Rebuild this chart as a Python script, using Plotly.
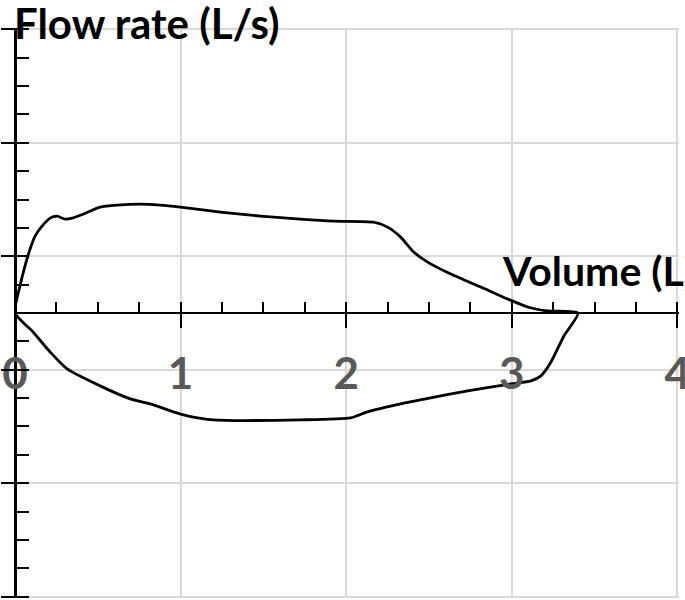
import plotly.graph_objects as go

# Expiratory limb (upper), volume L and flow L/s
exp_volume = [0, 0.030, 0.060, 0.091, 0.121, 0.163, 0.212, 0.254, 0.302, 0.345, 0.411, 0.514,
              0.617, 0.756, 0.877, 0.998, 1.240, 1.482, 1.724, 1.924, 2.166, 2.250, 2.329,
              2.408, 2.492, 2.632, 2.813, 2.976, 3.097, 3.218, 3.400]
exp_flow = [0, 0.475, 0.827, 1.127, 1.356, 1.532, 1.673, 1.708, 1.655, 1.673, 1.743, 1.866,
            1.901, 1.919, 1.901, 1.866, 1.778, 1.708, 1.655, 1.620, 1.602, 1.514, 1.338,
            1.074, 0.898, 0.687, 0.458, 0.246, 0.106, 0.035, 0.0]
# Inspiratory limb (lower), from end volume back to zero
insp_volume = [3.315, 3.237, 3.176, 3.116, 2.995, 2.734, 2.480, 2.329, 2.129, 2.027, 1.724,
               1.198, 1.041, 0.956, 0.817, 0.696, 0.514, 0.315, 0.212, 0.109, 0]
insp_flow = [-0.405, -0.863, -1.109, -1.197, -1.250, -1.373, -1.514, -1.602, -1.743, -1.849,
             -1.884, -1.884, -1.813, -1.743, -1.602, -1.514, -1.285, -0.986, -0.687, -0.335, 0]

x_ticks = [0, 1, 2, 3, 4]
x_tick_labels = ["0", "1", "2", "3", "4"]
title_text = "Flow rate (L/s)"
xlabel_text = "Volume (L)"

FONT = "Lato"
GRID = "#d9d9d9"
X_RANGE = [0, 4.01]
Y_RANGE = [-5.025, 5.025]

fig = go.Figure()
fig.add_trace(go.Scatter(
    x=exp_volume + insp_volume, y=exp_flow + insp_flow,
    mode="lines", line=dict(color="black", width=2.8, shape="spline", smoothing=0.6),
    hoverinfo="skip", showlegend=False))
# empty trace to host overlay axes (upper half of crossing ticks)
fig.add_trace(go.Scatter(x=[None], y=[None], xaxis="x2", yaxis="y2",
                         showlegend=False, hoverinfo="skip"))

fig.update_layout(
    width=685, height=600,
    margin=dict(l=15, r=6, t=28, b=2, autoexpand=False),
    paper_bgcolor="white", plot_bgcolor="white",
    xaxis=dict(
        range=X_RANGE, anchor="free", position=0.5, automargin=False,
        showline=True, linecolor="black", linewidth=2,
        ticks="outside", ticklen=14, tickwidth=2, tickcolor="black",
        tickvals=x_ticks, ticktext=x_tick_labels,
        tickfont=dict(family=FONT, size=44, color="#595959", weight="bold"),
        ticklabelstandoff=8, ticklabeloverflow="allow",
        showgrid=True, gridcolor=GRID, gridwidth=1.5, zeroline=False,
        minor=dict(dtick=0.25, ticks="inside", ticklen=10, tickwidth=2,
                   tickcolor="black", showgrid=False),
    ),
    xaxis2=dict(
        range=X_RANGE, overlaying="x", anchor="free", position=0.5, automargin=False,
        showline=False, ticks="inside", ticklen=11, tickwidth=2, tickcolor="black",
        tickvals=x_ticks[1:], showticklabels=False, showgrid=False, zeroline=False,
    ),
    yaxis=dict(
        range=Y_RANGE, anchor="free", position=0, automargin=False,
        showline=True, linecolor="black", linewidth=2.5,
        ticks="outside", ticklen=13, tickwidth=2, tickcolor="black",
        tick0=1, dtick=2, showticklabels=False,
        showgrid=True, gridcolor=GRID, gridwidth=1.5, zeroline=False,
        minor=dict(dtick=0.5, ticks="inside", ticklen=12, tickwidth=2,
                   tickcolor="black", showgrid=False),
    ),
    yaxis2=dict(
        range=Y_RANGE, overlaying="y", anchor="free", position=0, automargin=False,
        showline=False, ticks="inside", ticklen=12, tickwidth=2, tickcolor="black",
        tick0=1, dtick=2, showticklabels=False, showgrid=False, zeroline=False,
    ),
    annotations=[
        dict(text=title_text, xref="paper", yref="paper", x=-0.004, y=1.0088,
             xanchor="left", yanchor="middle", showarrow=False,
             font=dict(family=FONT, size=42, color="black", weight="bold")),
        dict(text=xlabel_text, xref="paper", yref="paper", x=0.7304, y=0.5754,
             xanchor="left", yanchor="middle", showarrow=False,
             font=dict(family=FONT, size=41, color="black", weight="bold")),
    ],
)

fig.write_html("out.html", config={"displayModeBar": False},
               post_script="document.body.style.margin='0';")
